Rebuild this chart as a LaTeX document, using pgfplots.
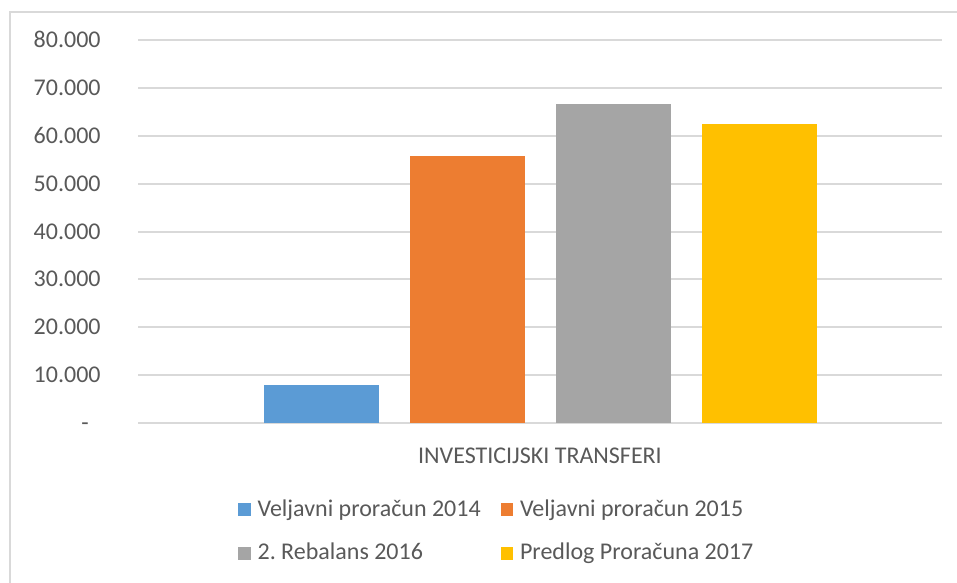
\documentclass[border=0pt]{standalone}
\usepackage{pgfplots}
\pgfplotsset{compat=1.18}
\usepackage{fontspec}
\setmainfont{Carlito}
\definecolor{cA}{HTML}{5B9BD5}
\definecolor{cB}{HTML}{ED7D31}
\definecolor{cC}{HTML}{A5A5A5}
\definecolor{cD}{HTML}{FFC000}
\definecolor{gridc}{HTML}{D9D9D9}
\definecolor{textc}{HTML}{595959}
\pgfplotsset{sqlegend/.style={legend image code/.code={\fill[##1] (0bp,-3bp) rectangle (6.3bp,3.3bp);}}}
\begin{document}
\begin{tikzpicture}
\useasboundingbox (-69bp,-80bp) rectangle (409.5bp,211.5bp);
\fill[white] (-69bp,-80bp) rectangle (409.5bp,211.5bp);
\draw[line width=0.75bp, color=gridc] (-64bp,-80bp) -- (-64bp,205.5bp) -- (409.5bp,205.5bp);
\begin{axis}[
  scale only axis, width=402bp, height=191.5bp,
  xmin=-1, xmax=1, ymin=0, ymax=80000,
  ybar=15.5bp, bar width=57.5bp,
  axis line style={draw=none},
  major tick length=0pt,
  scaled y ticks=false,
  ymajorgrids, grid style={line width=1bp, color=gridc},
  ytick={0,10000,20000,30000,40000,50000,60000,70000,80000},
  yticklabels={-\rule{6bp}{0pt},10.000,20.000,30.000,40.000,50.000,60.000,70.000,80.000},
  xtick={0}, xticklabels={INVESTICIJSKI TRANSFERI},
  tick label style={font=\fontsize{12bp}{14bp}\selectfont, color=textc},
  yticklabel style={anchor=base east, inner sep=0pt, xshift=-18.5bp, yshift=-3.8bp},
  xticklabel style={anchor=base, inner sep=0pt, yshift=-20bp},
  legend columns=2,
  legend cell align=left,
  legend style={draw=none, fill=none, inner sep=0pt, outer sep=0pt,
    at={(axis description cs:0,0)}, anchor=north west, xshift=50.15bp, yshift=-38.5bp,
    font=\fontsize{12bp}{14bp}\selectfont, text=textc, row sep=11.75bp,
    nodes={inner sep=0pt, text height=8bp, text depth=2bp},
    /tikz/every odd column/.style={column sep=3.35bp},
    /tikz/every even column/.style={column sep=10bp}},
]
\addplot[fill=cA, draw=none, sqlegend] coordinates {(0,7900)};
\addplot[fill=cB, draw=none, sqlegend] coordinates {(0,55800)};
\addplot[fill=cC, draw=none, sqlegend] coordinates {(0,66600)};
\addplot[fill=cD, draw=none, sqlegend] coordinates {(0,62500)};
\legend{Veljavni proračun 2014, Veljavni proračun 2015, 2.\ Rebalans 2016, Predlog Proračuna 2017}
\end{axis}
\end{tikzpicture}
\end{document}
